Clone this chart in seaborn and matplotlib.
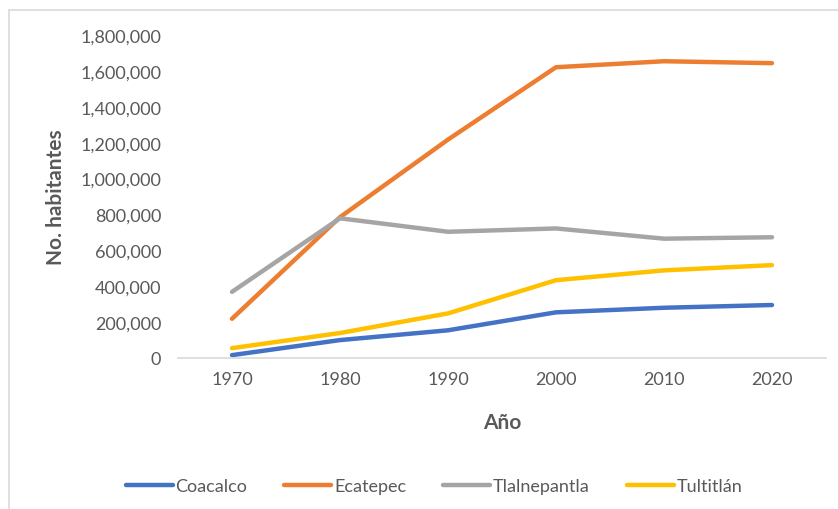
import matplotlib
matplotlib.use("Agg")
import matplotlib.pyplot as plt
from matplotlib.lines import Line2D
import seaborn as sns
import pandas as pd

years = [1970, 1980, 1990, 2000, 2010, 2020]
coacalco = [13197, 97353, 152082, 252555, 278064, 293444]
ecatepec = [216408, 784507, 1218135, 1622697, 1656107, 1645352]
tlalnepantla = [366935, 778173, 702807, 721415, 664225, 672202]
tultitlan = [52317, 136829, 246464, 432141, 486998, 516341]
series_names = ["Coacalco", "Ecatepec", "Tlalnepantla", "Tultitlán"]
colors = ["#4472C4", "#ED7D31", "#A5A5A5", "#FFC000"]
yticks = list(range(0, 1800001, 200000))

rows = []
for name, vals in zip(series_names, [coacalco, ecatepec, tlalnepantla, tultitlan]):
    for y, v in zip(years, vals):
        rows.append({"Año": y, "habitantes": v, "Municipio": name})
df = pd.DataFrame(rows)

sns.set_theme(style="white")
plt.rcParams["font.family"] = ["Lato", "DejaVu Sans"]

fig = plt.figure(figsize=(8.38, 5.10), dpi=100)
ax = fig.add_axes([178/838, 1-358.5/510, (826-178)/838, (358.5-36.5)/510])

sns.lineplot(data=df, x="Año", y="habitantes", hue="Municipio",
             palette=colors, hue_order=series_names, linewidth=3.2,
             ax=ax, legend=False, solid_capstyle="round")

ax.set_xlim(1965, 2025)
ax.set_ylim(0, 1800000)
ax.set_xticks(years)
ax.set_xticklabels([str(y) for y in years])
ax.set_yticks(yticks)
ax.set_yticklabels([f"{v:,}" for v in yticks])
ax.tick_params(axis="both", length=0, labelsize=13, colors="#595959", pad=12)
ax.tick_params(axis="x", pad=10)
for s in ["top", "right", "left"]:
    ax.spines[s].set_visible(False)
ax.spines["bottom"].set_color("#D9D9D9")
ax.spines["bottom"].set_linewidth(1.2)
ax.grid(False)

ax.set_xlabel("Año", fontsize=15, fontweight="bold", color="#595959", labelpad=18)
ax.set_ylabel("No. habitantes", fontsize=15, fontweight="bold", color="#595959", labelpad=10)

handles = [Line2D([0], [0], color=c, lw=3.2, solid_capstyle="round") for c in colors]
fig.legend(handles, series_names, loc="center", ncol=4, frameon=False,
           bbox_to_anchor=(434/838, 1-487/510), fontsize=13, handlelength=2.6,
           handletextpad=0.15, columnspacing=2.05, labelcolor="#595959")

# chart area border
fig.add_artist(Line2D([8.5/838, 8.5/838], [0, 1-11/510], color="#D9D9D9", lw=1.2, transform=fig.transFigure))
fig.add_artist(Line2D([8.5/838, 1], [1-11/510, 1-11/510], color="#D9D9D9", lw=1.2, transform=fig.transFigure))

fig.savefig("out.png", dpi=100, facecolor="white")
